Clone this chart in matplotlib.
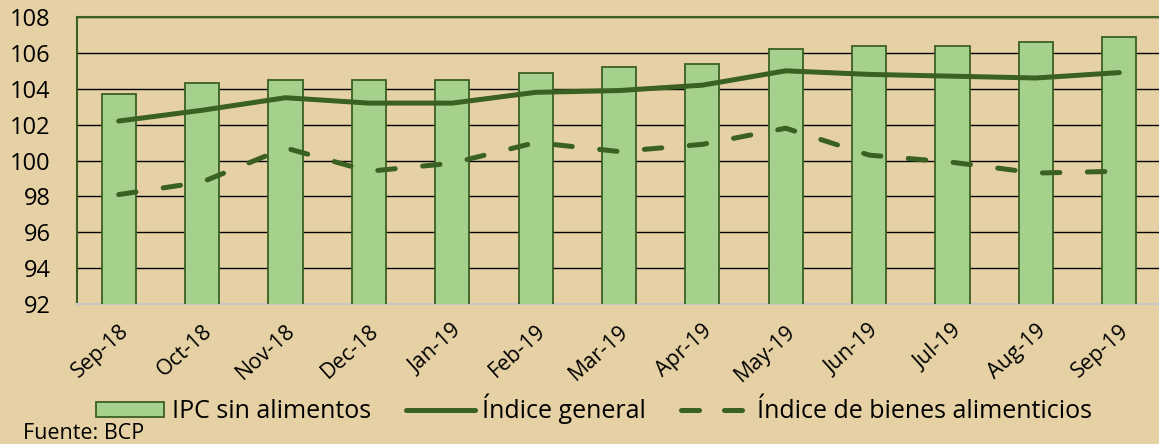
import numpy as np
import matplotlib.pyplot as plt
from matplotlib.patches import Patch
from matplotlib.lines import Line2D

meses = ['Sep-18', 'Oct-18', 'Nov-18', 'Dec-18', 'Jan-19', 'Feb-19', 'Mar-19',
         'Apr-19', 'May-19', 'Jun-19', 'Jul-19', 'Aug-19', 'Sep-19']
ipc_sin_alimentos = [103.7, 104.3, 104.5, 104.5, 104.5, 104.9, 105.2,
                     105.4, 106.2, 106.4, 106.4, 106.6, 106.9]
indice_general = [102.2, 102.8, 103.5, 103.2, 103.2, 103.8, 103.9,
                  104.2, 105.0, 104.8, 104.7, 104.6, 104.9]
indice_alimentos = [98.1, 98.8, 100.7, 99.4, 99.85, 101.0, 100.5,
                    100.9, 101.8, 100.3, 99.9, 99.3, 99.4]

fondo = '#E6D1A4'
verde_claro = '#A6D18C'
verde_osc = '#3A6022'

plt.rcParams['font.family'] = ['Open Sans', 'DejaVu Sans']

fig = plt.figure(figsize=(11.59, 4.44), dpi=100, facecolor=fondo)
ax = fig.add_axes([77 / 1159, 1 - 304 / 444, 1084 / 1159, 287 / 444])
ax.set_facecolor(fondo)

x = np.arange(len(meses))
ax.bar(x, ipc_sin_alimentos, width=0.41, bottom=0, color=verde_claro,
       edgecolor=verde_osc, linewidth=1.3, zorder=3)
ax.plot(x, indice_general, color=verde_osc, linewidth=3.6, zorder=4,
        solid_capstyle='round')
ax.plot(x, indice_alimentos, color=verde_osc, linewidth=3.6, zorder=4,
        linestyle=(0, (3.5, 5.5)), dash_capstyle='round')

ax.set_ylim(92, 108)
ax.set_xlim(-0.5, len(meses) - 0.5)
ax.set_yticks(np.arange(92, 109, 2))
ax.yaxis.grid(True, color='black', linewidth=1.0, zorder=1)
ax.set_axisbelow(True)

ax.set_xticks(x)
ax.set_xticklabels(meses, rotation=42, ha='right', rotation_mode='anchor')
ax.tick_params(axis='both', length=0, colors='black')
ax.tick_params(axis='y', pad=19, labelsize=17)
ax.tick_params(axis='x', pad=12, labelsize=15.5)

for s in ['left', 'top']:
    ax.spines[s].set_color(verde_osc)
    ax.spines[s].set_linewidth(1.5)
ax.spines['bottom'].set_color('#C8C8C8')
ax.spines['bottom'].set_linewidth(1.5)
ax.spines['right'].set_visible(False)

handles = [
    Patch(facecolor=verde_claro, edgecolor=verde_osc, linewidth=1.3),
    Line2D([0], [0], color=verde_osc, linewidth=3.6, solid_capstyle='round'),
    Line2D([0], [0], color=verde_osc, linewidth=3.6, linestyle=(0, (3.6, 5)),
           dash_capstyle='round'),
]
labels = ['IPC sin alimentos', 'Índice general', 'Índice de bienes alimenticios']
fig.legend(handles, labels, loc='center', bbox_to_anchor=(594 / 1159, 1 - 409 / 444),
           ncol=3, frameon=False, fontsize=18, handlelength=2.75, handleheight=0.52,
           columnspacing=1.4, handletextpad=0.3, borderpad=0)

fig.text(23 / 1159, 1 - 433 / 444, 'Fuente: BCP', fontsize=15.5, va='center', ha='left')

fig.savefig('out.png', dpi=100, facecolor=fondo)
